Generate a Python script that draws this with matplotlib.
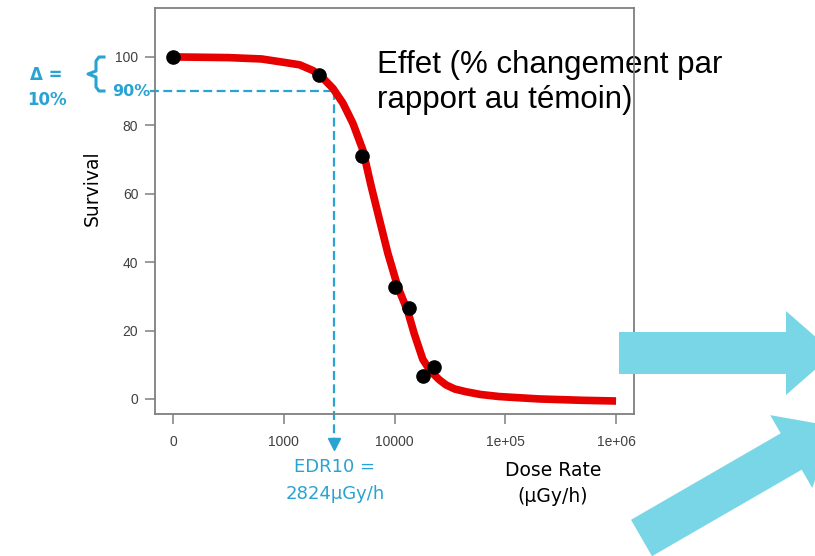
import matplotlib
matplotlib.use("Agg")
import matplotlib.pyplot as plt
from matplotlib.patches import FancyArrow
from matplotlib.lines import Line2D

# observed survival (dose 0 = control, drawn at the "0" tick)
dose = [0, 2080, 5120, 10000, 13450, 18240, 22600]
survival = [100, 94.7, 71, 32.7, 26.7, 6.7, 9.2]

# fitted curve
curve_dose = [100, 316, 631, 920, 1390, 1840, 2260, 2780, 3420, 4210, 5180,
              6170, 7330, 8710, 10700, 13200, 15100, 18000, 20000, 22100,
              25400, 29200, 35000, 44300, 60000, 88300, 202000, 501000, 1000000]
curve_surv = [100, 99.8, 99.4, 98.6, 97.7, 96.0, 93.8, 90.8, 86.5, 80.6, 72.8,
              62.1, 52.3, 42.6, 32.8, 25.5, 19.0, 11.6, 9.3, 7.5,
              5.6, 4.1, 2.9, 2.1, 1.3, 0.7, 0.0, -0.4, -0.6]

edr10 = 2824
edr_level = 90
zero_pos = 100
xticks = [100, 1000, 10000, 100000, 1000000]
xticklabels = ['0', '1000', '10000', '1e+05', '1e+06']
yticks = [0, 20, 40, 60, 80, 100]

blue = '#29a3d1'
cyan = '#78d6e6'

fig = plt.figure(figsize=(8.15, 5.56), dpi=100)
ax = fig.add_axes([155/815, 142/556, 479/815, 406/556])

# overlay in pixel coordinates for the annotations
ov = fig.add_axes([0, 0, 1, 1])
ov.set_xlim(0, 815)
ov.set_ylim(556, 0)
ov.axis('off')
ov.patch.set_alpha(0)

ax.plot(curve_dose, curve_surv, color='#e60000', lw=5.5, solid_capstyle='butt',
        solid_joinstyle='round', zorder=3)
xs = [d if d > 0 else zero_pos for d in dose]
ax.plot(xs, survival, 'o', color='black', ms=9.5, zorder=4)

# EDR10 guide lines
ax.plot([62, edr10], [edr_level, edr_level], color=blue, lw=1.6, dashes=(4, 2),
        clip_on=False, zorder=2)
ax.plot([edr10, edr10], [edr_level, -11.5], color=blue, lw=1.6, dashes=(4, 2),
        clip_on=False, zorder=2)
ax.plot([edr10], [-13.3], marker='v', color=blue, ms=9, clip_on=False)

ax.set_xscale('log')
ax.set_xlim(10**1.838, 10**6.162)
ax.set_ylim(-4.4, 114.3)
ax.set_xticks(xticks)
ax.set_xticklabels(xticklabels)
ax.minorticks_off()
ax.set_yticks(yticks)
for s in ax.spines.values():
    s.set_color('#7f7f7f')
    s.set_linewidth(1.3)
ax.tick_params(direction='out', length=7, width=1.1, color='#7f7f7f',
               labelcolor='#404040', labelsize=10)
ax.tick_params(axis='y', pad=5)
ax.tick_params(axis='x', pad=8)
for lab in ax.get_xticklabels() + ax.get_yticklabels():
    lab.set_family('Liberation Sans')

# title-like text sits under the axes frame
ax.text(377, 73, 'Effet (% changement par', transform=ov.transData, ha='left',
        va='baseline', fontsize=22.5, family='Liberation Sans', zorder=1)
ax.text(377, 108, 'rapport au témoin)', transform=ov.transData, ha='left',
        va='baseline', fontsize=22.5, family='Liberation Sans', zorder=1)

ov.text(92, 188, 'Survival', rotation=90, ha='center', va='center',
        fontsize=13.5, family='DejaVu Sans')
ov.text(553, 470, 'Dose Rate', ha='center', va='center', fontsize=13.5,
        family='DejaVu Sans')
ov.text(553, 497, '(µGy/h)', ha='center', va='center', fontsize=13.5,
        family='DejaVu Sans')
ov.text(335, 467, 'EDR10 =', ha='center', va='center', fontsize=13,
        family='DejaVu Sans', color=blue)
ov.text(335, 494, '2824µGy/h', ha='center', va='center', fontsize=13,
        family='DejaVu Sans', color=blue)
ov.text(131, 92, '90%', ha='center', va='center', fontsize=11.5,
        fontweight='bold', family='DejaVu Sans', color=blue)
ov.text(46, 75, 'Δ =', ha='center', va='center', fontsize=12,
        fontweight='bold', family='DejaVu Sans', color=blue)
ov.text(47, 100, '10%', ha='center', va='center', fontsize=12,
        fontweight='bold', family='DejaVu Sans', color=blue)

# brace
bx = [104, 99, 96, 96, 88, 96, 96, 99, 104]
by = [57, 57, 61, 71, 74, 77, 87, 91, 91]
ov.add_line(Line2D(bx, by, color=blue, lw=2.2, solid_joinstyle='round'))

# big cyan arrows
ov.add_patch(FancyArrow(619, 353, 215, 0, width=42, head_width=84, head_length=48,
                        length_includes_head=True, color=cyan, lw=0))
ov.add_patch(FancyArrow(641.5, 538, 193, -111.5, width=42, head_width=84,
                        head_length=50, length_includes_head=True, color=cyan, lw=0))

fig.savefig('out.png', dpi=100)
